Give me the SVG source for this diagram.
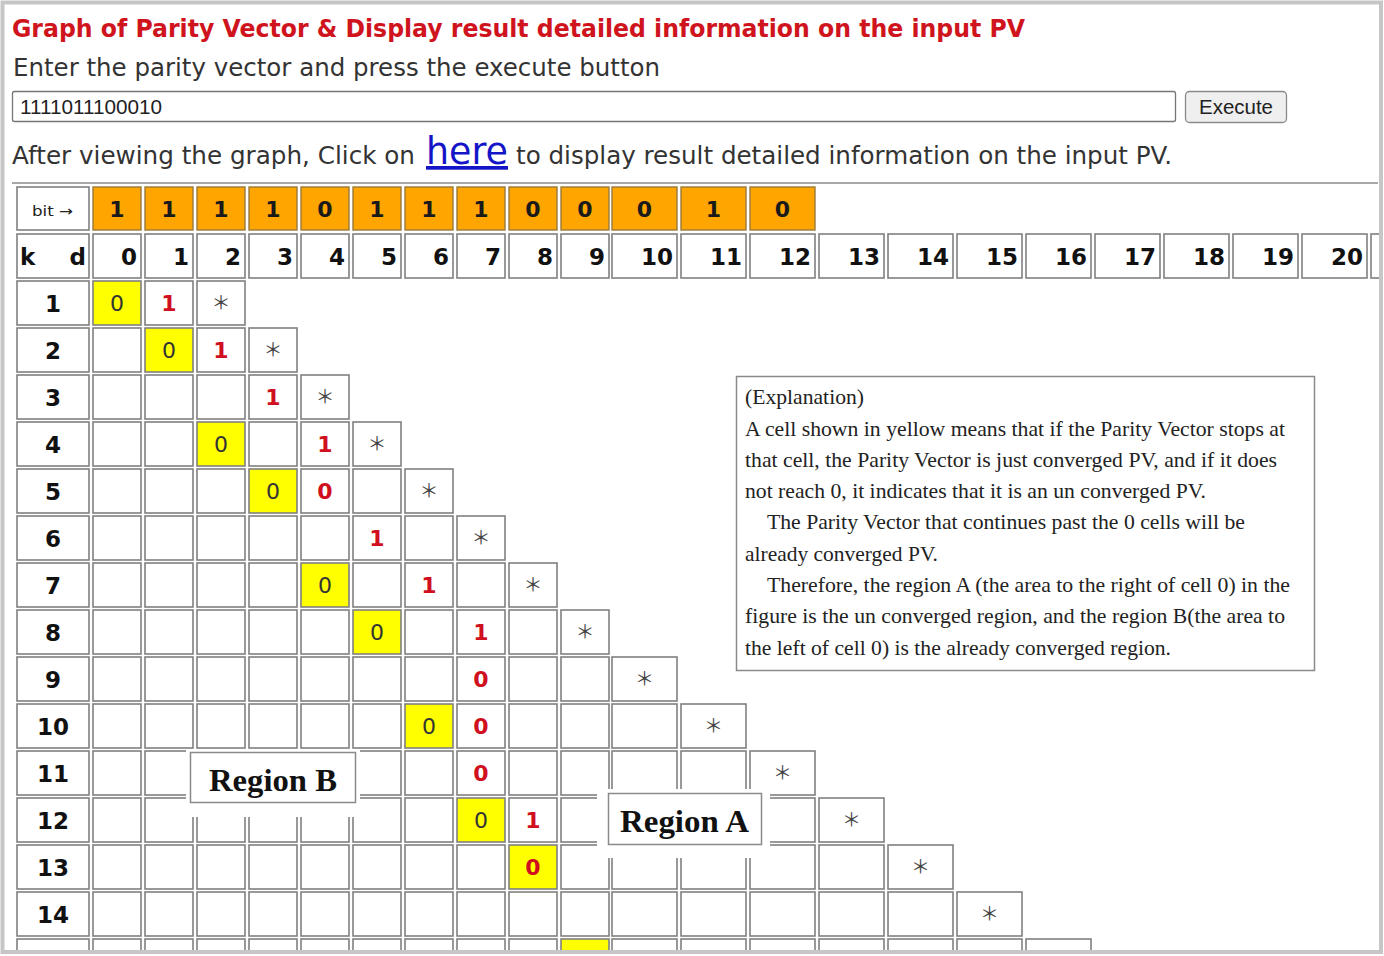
<svg xmlns="http://www.w3.org/2000/svg" xmlns:xlink="http://www.w3.org/1999/xlink" width="1384" height="956" viewBox="0 0 1384 956">
<style>
.ui{font-family:"DejaVu Sans","Liberation Sans",sans-serif}
.title{font-family:"DejaVu Sans","Liberation Sans",sans-serif;font-weight:bold;font-size:24px;fill:#d0141e}
.plain{font-family:"DejaVu Sans","Liberation Sans",sans-serif;font-size:24px;fill:#333}
.link{font-family:"DejaVu Sans","Liberation Sans",sans-serif;font-size:37px;fill:#1515c8;text-decoration:underline}
.arial{font-family:"Liberation Sans",Arial,sans-serif;font-size:20px;fill:#222}
.bit{font-family:"DejaVu Sans",Verdana,sans-serif;font-weight:bold;font-size:22px;fill:#1a1a1a;text-anchor:middle}
.hd{font-family:"DejaVu Sans",Verdana,sans-serif;font-weight:bold;font-size:23px;fill:#111;text-anchor:end}
.lb{font-family:"DejaVu Sans",Verdana,sans-serif;font-weight:bold;font-size:23px;fill:#111;text-anchor:middle}
.zy{font-family:"DejaVu Sans",Verdana,sans-serif;font-size:22px;fill:#333;text-anchor:middle}
.rd{font-family:"DejaVu Sans",Verdana,sans-serif;font-weight:bold;font-size:22px;fill:#d0101e;text-anchor:middle}
.st{font-family:"Noto Sans CJK JP","DejaVu Sans",sans-serif;font-size:19px;fill:#444;text-anchor:middle}
.ex{font-family:"Liberation Serif","Times New Roman",serif;font-size:21px;fill:#222}
.reg{font-family:"Liberation Serif","Times New Roman",serif;font-weight:bold;font-size:31px;fill:#111}
</style>
<defs>
<rect id="L" width="72" height="44" fill="#fff" stroke="#808080" stroke-width="1.6"/>
<rect id="s" width="48" height="44" fill="#fff" stroke="#808080" stroke-width="1.6"/>
<rect id="y" width="48" height="44" fill="#ffff00" stroke="#808080" stroke-width="1.6"/>
<rect id="w" width="65" height="44" fill="#fff" stroke="#808080" stroke-width="1.6"/>
<rect id="os" width="48" height="43" fill="#ffa500" stroke="#9a7a3a" stroke-width="1.4"/>
<rect id="ow" width="65" height="43" fill="#ffa500" stroke="#9a7a3a" stroke-width="1.4"/>
<clipPath id="tc"><rect x="0" y="0" width="1379" height="951"/></clipPath>
</defs>
<rect x="0" y="0" width="1384" height="956" fill="#fff"/>

<g id="header">
<text class="title" x="12" y="37" textLength="1013" lengthAdjust="spacingAndGlyphs">Graph of Parity Vector &amp; Display result detailed information on the input PV</text>
<text class="plain" x="13" y="76" textLength="647" lengthAdjust="spacingAndGlyphs">Enter the parity vector and press the execute button</text>
<rect x="12.5" y="91.5" width="1163" height="30" rx="2" fill="#fff" stroke="#767676" stroke-width="1.3"/>
<text class="arial" x="20" y="114" textLength="142" lengthAdjust="spacingAndGlyphs">1111011100010</text>
<rect x="1185.5" y="91.5" width="101" height="31" rx="4" fill="#efefef" stroke="#8a8a8a" stroke-width="1.3"/>
<text class="arial" x="1199" y="114" textLength="74" lengthAdjust="spacingAndGlyphs">Execute</text>
<text class="plain" x="12" y="164" textLength="403" lengthAdjust="spacingAndGlyphs">After viewing the graph, Click on</text>
<text class="link" x="426" y="164" textLength="82" lengthAdjust="spacingAndGlyphs">here</text>
<text class="plain" x="516" y="164" textLength="656" lengthAdjust="spacingAndGlyphs">to display result detailed information on the input PV.</text>
<line x1="12" y1="183" x2="1378" y2="183" stroke="#a8a8a8" stroke-width="2"/>
</g>

<g id="table" clip-path="url(#tc)">
<g id="row-bit">
<rect x="17" y="187" width="72" height="43" fill="#fff" stroke="#808080" stroke-width="1.6"/>
<text class="ui" x="32" y="216" font-size="14" fill="#222" textLength="41" lengthAdjust="spacingAndGlyphs">bit →</text>
<use href="#os" x="93" y="187"/><use href="#os" x="145" y="187"/><use href="#os" x="197" y="187"/><use href="#os" x="249" y="187"/><use href="#os" x="301" y="187"/><use href="#os" x="353" y="187"/><use href="#os" x="405" y="187"/><use href="#os" x="457" y="187"/><use href="#os" x="509" y="187"/><use href="#os" x="561" y="187"/><use href="#ow" x="612" y="187"/><use href="#ow" x="681" y="187"/><use href="#ow" x="750" y="187"/>
<text class="bit" x="117" y="216.5">1</text><text class="bit" x="169" y="216.5">1</text><text class="bit" x="221" y="216.5">1</text><text class="bit" x="273" y="216.5">1</text><text class="bit" x="325" y="216.5">0</text><text class="bit" x="377" y="216.5">1</text><text class="bit" x="429" y="216.5">1</text><text class="bit" x="481" y="216.5">1</text><text class="bit" x="533" y="216.5">0</text><text class="bit" x="585" y="216.5">0</text><text class="bit" x="644.5" y="216.5">0</text><text class="bit" x="713.5" y="216.5">1</text><text class="bit" x="782.5" y="216.5">0</text>
</g>
<g id="row-kd">
<use href="#L" x="17" y="234"/>
<use href="#s" x="93" y="234"/><use href="#s" x="145" y="234"/><use href="#s" x="197" y="234"/><use href="#s" x="249" y="234"/><use href="#s" x="301" y="234"/><use href="#s" x="353" y="234"/><use href="#s" x="405" y="234"/><use href="#s" x="457" y="234"/><use href="#s" x="509" y="234"/><use href="#s" x="561" y="234"/>
<use href="#w" x="612" y="234"/><use href="#w" x="681" y="234"/><use href="#w" x="750" y="234"/><use href="#w" x="819" y="234"/><use href="#w" x="888" y="234"/><use href="#w" x="957" y="234"/><use href="#w" x="1026" y="234"/><use href="#w" x="1095" y="234"/><use href="#w" x="1164" y="234"/><use href="#w" x="1233" y="234"/><use href="#w" x="1302" y="234"/><use href="#w" x="1371" y="234"/>
<text class="hd" x="20" y="264.5" style="text-anchor:start">k</text><text class="hd" x="86" y="264.5">d</text>
<text class="hd" x="137" y="264.5">0</text><text class="hd" x="189" y="264.5">1</text><text class="hd" x="241" y="264.5">2</text><text class="hd" x="293" y="264.5">3</text><text class="hd" x="345" y="264.5">4</text><text class="hd" x="397" y="264.5">5</text><text class="hd" x="449" y="264.5">6</text><text class="hd" x="501" y="264.5">7</text><text class="hd" x="553" y="264.5">8</text><text class="hd" x="605" y="264.5">9</text>
<text class="hd" x="673" y="264.5">10</text><text class="hd" x="742" y="264.5">11</text><text class="hd" x="811" y="264.5">12</text><text class="hd" x="880" y="264.5">13</text><text class="hd" x="949" y="264.5">14</text><text class="hd" x="1018" y="264.5">15</text><text class="hd" x="1087" y="264.5">16</text><text class="hd" x="1156" y="264.5">17</text><text class="hd" x="1225" y="264.5">18</text><text class="hd" x="1294" y="264.5">19</text><text class="hd" x="1363" y="264.5">20</text>
</g>

<g id="row-1">
<use href="#L" x="17" y="281"/><use href="#y" x="93" y="281"/><use href="#s" x="145" y="281"/><use href="#s" x="197" y="281"/>
<text class="lb" x="53" y="311.5">1</text><text class="zy" x="117" y="311">0</text><text class="rd" x="169" y="311">1</text><text class="st" x="221" y="310">＊</text>
</g>
<g id="row-2">
<use href="#L" x="17" y="328"/><use href="#s" x="93" y="328"/><use href="#y" x="145" y="328"/><use href="#s" x="197" y="328"/><use href="#s" x="249" y="328"/>
<text class="lb" x="53" y="358.5">2</text><text class="zy" x="169" y="358">0</text><text class="rd" x="221" y="358">1</text><text class="st" x="273" y="357">＊</text>
</g>
<g id="row-3">
<use href="#L" x="17" y="375"/><use href="#s" x="93" y="375"/><use href="#s" x="145" y="375"/><use href="#s" x="197" y="375"/><use href="#s" x="249" y="375"/><use href="#s" x="301" y="375"/>
<text class="lb" x="53" y="405.5">3</text><text class="rd" x="273" y="405">1</text><text class="st" x="325" y="404">＊</text>
</g>
<g id="row-4">
<use href="#L" x="17" y="422"/><use href="#s" x="93" y="422"/><use href="#s" x="145" y="422"/><use href="#y" x="197" y="422"/><use href="#s" x="249" y="422"/><use href="#s" x="301" y="422"/><use href="#s" x="353" y="422"/>
<text class="lb" x="53" y="452.5">4</text><text class="zy" x="221" y="452">0</text><text class="rd" x="325" y="452">1</text><text class="st" x="377" y="451">＊</text>
</g>
<g id="row-5">
<use href="#L" x="17" y="469"/><use href="#s" x="93" y="469"/><use href="#s" x="145" y="469"/><use href="#s" x="197" y="469"/><use href="#y" x="249" y="469"/><use href="#s" x="301" y="469"/><use href="#s" x="353" y="469"/><use href="#s" x="405" y="469"/>
<text class="lb" x="53" y="499.5">5</text><text class="zy" x="273" y="499">0</text><text class="rd" x="325" y="499">0</text><text class="st" x="429" y="498">＊</text>
</g>
<g id="row-6">
<use href="#L" x="17" y="516"/><use href="#s" x="93" y="516"/><use href="#s" x="145" y="516"/><use href="#s" x="197" y="516"/><use href="#s" x="249" y="516"/><use href="#s" x="301" y="516"/><use href="#s" x="353" y="516"/><use href="#s" x="405" y="516"/><use href="#s" x="457" y="516"/>
<text class="lb" x="53" y="546.5">6</text><text class="rd" x="377" y="546">1</text><text class="st" x="481" y="545">＊</text>
</g>
<g id="row-7">
<use href="#L" x="17" y="563"/><use href="#s" x="93" y="563"/><use href="#s" x="145" y="563"/><use href="#s" x="197" y="563"/><use href="#s" x="249" y="563"/><use href="#y" x="301" y="563"/><use href="#s" x="353" y="563"/><use href="#s" x="405" y="563"/><use href="#s" x="457" y="563"/><use href="#s" x="509" y="563"/>
<text class="lb" x="53" y="593.5">7</text><text class="zy" x="325" y="593">0</text><text class="rd" x="429" y="593">1</text><text class="st" x="533" y="592">＊</text>
</g>
<g id="row-8">
<use href="#L" x="17" y="610"/><use href="#s" x="93" y="610"/><use href="#s" x="145" y="610"/><use href="#s" x="197" y="610"/><use href="#s" x="249" y="610"/><use href="#s" x="301" y="610"/><use href="#y" x="353" y="610"/><use href="#s" x="405" y="610"/><use href="#s" x="457" y="610"/><use href="#s" x="509" y="610"/><use href="#s" x="561" y="610"/>
<text class="lb" x="53" y="640.5">8</text><text class="zy" x="377" y="640">0</text><text class="rd" x="481" y="640">1</text><text class="st" x="585" y="639">＊</text>
</g>
<g id="row-9">
<use href="#L" x="17" y="657"/><use href="#s" x="93" y="657"/><use href="#s" x="145" y="657"/><use href="#s" x="197" y="657"/><use href="#s" x="249" y="657"/><use href="#s" x="301" y="657"/><use href="#s" x="353" y="657"/><use href="#s" x="405" y="657"/><use href="#s" x="457" y="657"/><use href="#s" x="509" y="657"/><use href="#s" x="561" y="657"/><use href="#w" x="612" y="657"/>
<text class="lb" x="53" y="687.5">9</text><text class="rd" x="481" y="687">0</text><text class="st" x="644.5" y="686">＊</text>
</g>
<g id="row-10">
<use href="#L" x="17" y="704"/><use href="#s" x="93" y="704"/><use href="#s" x="145" y="704"/><use href="#s" x="197" y="704"/><use href="#s" x="249" y="704"/><use href="#s" x="301" y="704"/><use href="#s" x="353" y="704"/><use href="#y" x="405" y="704"/><use href="#s" x="457" y="704"/><use href="#s" x="509" y="704"/><use href="#s" x="561" y="704"/><use href="#w" x="612" y="704"/><use href="#w" x="681" y="704"/>
<text class="lb" x="53" y="734.5">10</text><text class="zy" x="429" y="734">0</text><text class="rd" x="481" y="734">0</text><text class="st" x="713.5" y="733">＊</text>
</g>
<g id="row-11">
<use href="#L" x="17" y="751"/><use href="#s" x="93" y="751"/><use href="#s" x="145" y="751"/><use href="#s" x="197" y="751"/><use href="#s" x="249" y="751"/><use href="#s" x="301" y="751"/><use href="#s" x="353" y="751"/><use href="#s" x="405" y="751"/><use href="#s" x="457" y="751"/><use href="#s" x="509" y="751"/><use href="#s" x="561" y="751"/><use href="#w" x="612" y="751"/><use href="#w" x="681" y="751"/><use href="#w" x="750" y="751"/>
<text class="lb" x="53" y="781.5">11</text><text class="rd" x="481" y="781">0</text><text class="st" x="782.5" y="780">＊</text>
</g>
<g id="row-12">
<use href="#L" x="17" y="798"/><use href="#s" x="93" y="798"/><use href="#s" x="145" y="798"/><use href="#s" x="197" y="798"/><use href="#s" x="249" y="798"/><use href="#s" x="301" y="798"/><use href="#s" x="353" y="798"/><use href="#s" x="405" y="798"/><use href="#y" x="457" y="798"/><use href="#s" x="509" y="798"/><use href="#s" x="561" y="798"/><use href="#w" x="612" y="798"/><use href="#w" x="681" y="798"/><use href="#w" x="750" y="798"/><use href="#w" x="819" y="798"/>
<text class="lb" x="53" y="828.5">12</text><text class="zy" x="481" y="828">0</text><text class="rd" x="533" y="828">1</text><text class="st" x="851.5" y="827">＊</text>
</g>
<g id="row-13">
<use href="#L" x="17" y="845"/><use href="#s" x="93" y="845"/><use href="#s" x="145" y="845"/><use href="#s" x="197" y="845"/><use href="#s" x="249" y="845"/><use href="#s" x="301" y="845"/><use href="#s" x="353" y="845"/><use href="#s" x="405" y="845"/><use href="#s" x="457" y="845"/><use href="#y" x="509" y="845"/><use href="#s" x="561" y="845"/><use href="#w" x="612" y="845"/><use href="#w" x="681" y="845"/><use href="#w" x="750" y="845"/><use href="#w" x="819" y="845"/><use href="#w" x="888" y="845"/>
<text class="lb" x="53" y="875.5">13</text><text class="rd" x="533" y="875">0</text><text class="st" x="920.5" y="874">＊</text>
</g>
<g id="row-14">
<use href="#L" x="17" y="892"/><use href="#s" x="93" y="892"/><use href="#s" x="145" y="892"/><use href="#s" x="197" y="892"/><use href="#s" x="249" y="892"/><use href="#s" x="301" y="892"/><use href="#s" x="353" y="892"/><use href="#s" x="405" y="892"/><use href="#s" x="457" y="892"/><use href="#s" x="509" y="892"/><use href="#s" x="561" y="892"/><use href="#w" x="612" y="892"/><use href="#w" x="681" y="892"/><use href="#w" x="750" y="892"/><use href="#w" x="819" y="892"/><use href="#w" x="888" y="892"/><use href="#w" x="957" y="892"/>
<text class="lb" x="53" y="922.5">14</text><text class="st" x="989.5" y="921">＊</text>
</g>
<g id="row-15">
<use href="#L" x="17" y="939"/><use href="#s" x="93" y="939"/><use href="#s" x="145" y="939"/><use href="#s" x="197" y="939"/><use href="#s" x="249" y="939"/><use href="#s" x="301" y="939"/><use href="#s" x="353" y="939"/><use href="#s" x="405" y="939"/><use href="#s" x="457" y="939"/><use href="#s" x="509" y="939"/><use href="#y" x="561" y="939"/><use href="#w" x="612" y="939"/><use href="#w" x="681" y="939"/><use href="#w" x="750" y="939"/><use href="#w" x="819" y="939"/><use href="#w" x="888" y="939"/><use href="#w" x="957" y="939"/><use href="#w" x="1026" y="939"/>
</g>
</g>

<g id="region-b">
<rect x="186" y="749" width="174" height="68" fill="#fff"/>
<rect x="190.5" y="752.5" width="165" height="50" fill="#fff" stroke="#8a8a8a" stroke-width="1.5"/>
<text class="reg" x="209" y="791" textLength="128" lengthAdjust="spacingAndGlyphs">Region B</text>
</g>
<g id="region-a">
<rect x="597" y="789" width="173" height="69" fill="#fff"/>
<rect x="608.5" y="793.5" width="153" height="51" fill="#fff" stroke="#8a8a8a" stroke-width="1.5"/>
<text class="reg" x="620" y="832" textLength="129" lengthAdjust="spacingAndGlyphs">Region A</text>
</g>

<g id="explanation">
<rect x="736.5" y="376.5" width="578" height="294" fill="#fff" stroke="#8a8a8a" stroke-width="1.5"/>
<text class="ex" x="745" y="404" textLength="119" lengthAdjust="spacingAndGlyphs">(Explanation)</text>
<text class="ex" x="745" y="436" textLength="540" lengthAdjust="spacingAndGlyphs">A cell shown in yellow means that if the Parity Vector stops at</text>
<text class="ex" x="745" y="467" textLength="532" lengthAdjust="spacingAndGlyphs">that cell, the Parity Vector is just converged PV, and if it does</text>
<text class="ex" x="745" y="498" textLength="461" lengthAdjust="spacingAndGlyphs">not reach 0, it indicates that it is an un converged PV.</text>
<text class="ex" x="767" y="529" textLength="478" lengthAdjust="spacingAndGlyphs">The Parity Vector that continues past the 0 cells will be</text>
<text class="ex" x="745" y="561" textLength="193" lengthAdjust="spacingAndGlyphs">already converged PV.</text>
<text class="ex" x="767" y="592" textLength="523" lengthAdjust="spacingAndGlyphs">Therefore, the region A (the area to the right of cell 0) in the</text>
<text class="ex" x="745" y="623" textLength="540" lengthAdjust="spacingAndGlyphs">figure is the un converged region, and the region B(the area to</text>
<text class="ex" x="745" y="655" textLength="426" lengthAdjust="spacingAndGlyphs">the left of cell 0) is the already converged region.</text>
</g>

<g id="connectors"/>
<rect x="2.5" y="2.5" width="1378.5" height="949.5" fill="none" stroke="#c6c6c6" stroke-width="4"/>
</svg>
